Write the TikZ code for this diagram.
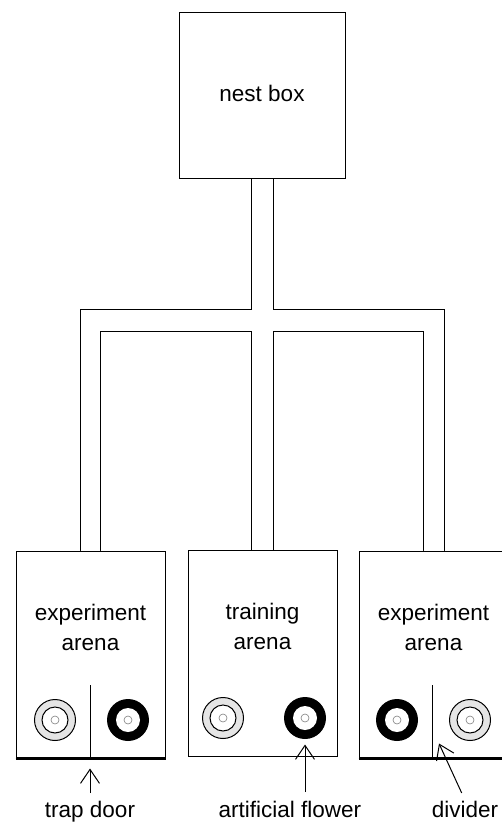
\documentclass[tikz,border=0pt]{standalone}
\usepackage{fontspec}
\setmainfont{Liberation Sans}
\usetikzlibrary{arrows.meta, positioning}

\begin{document}
\begin{tikzpicture}[x=1pt, y=-1pt, line width=1pt,
		box/.style={draw, inner sep=0pt, minimum width=149pt, minimum height=206pt},
		pipe/.style={line width=1pt, line cap=round},
		door/.style={line width=2.5pt},
		txt/.style={inner sep=0pt, align=center, font=\fontsize{22.5}{30}\selectfont},
		pointer/.style={-{Straight Barb[length=14pt, width=19pt]}, line width=1pt},
		grayflower/.style={circle, draw, line width=1pt, fill=gray!20, inner sep=0pt, minimum size=41pt,
			path picture={
				\draw [line width=1pt, fill=white] (path picture bounding box.center) circle (13pt);
				\draw [gray, line width=0.6pt] (path picture bounding box.center) circle (4pt);
			}},
		blackflower/.style={circle, fill=black, inner sep=0pt, minimum size=42pt,
			path picture={
				\fill [white] (path picture bounding box.center) circle (12pt);
				\draw [gray, line width=0.6pt] (path picture bounding box.center) circle (4pt);
			}}]
			\useasboundingbox (0,0) rectangle (502,824);
			\clip (0,0) rectangle (502,824);
			
			\node [draw, txt, minimum width=166pt, minimum height=165pt, text depth=5pt] (nest) at (262,95.5) {nest box};
			
			\node [box] (lefta) at (90.5,654) {};
			\node [box] (traina) at (262.5,653.5) {};
			\node [box] (righta) at (433.5,654) {};
			
			\node [txt, below=53pt of lefta.north] (lefttxt) {experiment\\arena};
			\node [txt, below=53pt of traina.north] (traintxt) {training\\arena};
			\node [txt, below=53pt of righta.north] (righttxt) {experiment\\arena};
			
			\coordinate (tl) at ([xshift=-11pt]nest.south);
			\coordinate (tr) at ([xshift=11pt]nest.south);
			\coordinate (lo) at (80,309);
			\coordinate (li) at (100,331);
			\coordinate (ro) at (444,309);
			\coordinate (ri) at (423,331);
			
			\draw [pipe] (tl) |- (lo) -- (lo |- lefta.north);
			\draw [pipe] (li |- lefta.north) -- (li) -| (tl |- traina.north);
			\draw [pipe] (tr) |- (ro) -- (ro |- righta.north);
			\draw [pipe] (ri |- righta.north) -- (ri) -| (tr |- traina.north);
			
			\draw (lefta.south) -- ++(0,-73);
			\draw ([xshift=-1.5pt]righta.south) -- ++(0,-73);
			\draw [door] ([yshift=-1.5pt]lefta.south west) -- ([yshift=-1.5pt]lefta.south east);
			\draw [door] ([yshift=-1.5pt]righta.south west) -- ([yshift=-1.5pt]righta.south east);
			
			\foreach \n/\x/\y in {g1/55/720, g2/223/718, g3/470/720}{
				\node [grayflower] (\n) at (\x,\y) {};
			}
			\foreach \n/\x/\y in {b1/128/720, b2/305/718, b3/397/720}{
				\node [blackflower] (\n) at (\x,\y) {};
			}
			
			\node [txt, anchor=base] (trapdoor) at (90,817) {trap door};
			\node [txt, anchor=base] (flowerlbl) at (290,817) {artificial flower};
			\node [txt, anchor=base] (dividerlbl) at (465,817) {divider};
			
			\coordinate (divtip) at ([shift={(5.5pt,14pt)}]righta.south);
			\draw [pointer, shorten <=7pt, shorten >=11pt] (trapdoor.north) -- (trapdoor.north |- lefta.south);
			\draw [pointer, shorten <=8pt, shorten >=5pt] (flowerlbl.north -| b2.south) -- (b2.south);
			\draw [pointer, shorten <=8pt] (dividerlbl.north) -- (divtip);
		\end{tikzpicture}
\end{document}
